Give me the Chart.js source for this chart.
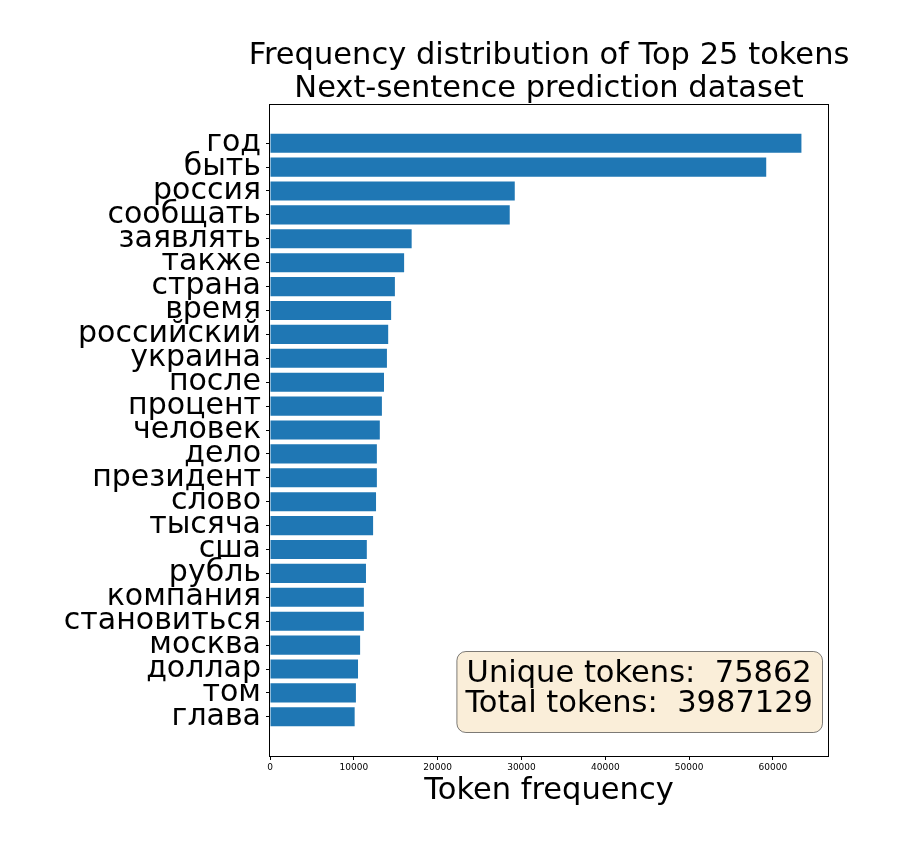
<!DOCTYPE html>
<html>
<head>
<meta charset="utf-8">
<script src="https://cdn.jsdelivr.net/npm/chart.js@4.4.1/dist/chart.umd.min.js"></script>
<style>
    html, body { margin: 0; padding: 0; background: #fff; }
    #myChart { display: block; }
</style>
</head>
<body>
<canvas id="myChart" width="900" height="864"></canvas>
<script>
// top 25 tokens, highest first
const tokens = ["год", "быть", "россия", "сообщать", "заявлять", "также", "страна", "время",
    "российский", "украина", "после", "процент", "человек", "дело", "президент", "слово",
    "тысяча", "сша", "рубль", "компания", "становиться", "москва", "доллар", "том", "глава"];
const counts = [63400, 59200, 29200, 28600, 16900, 16000, 14900, 14450,
    14100, 13950, 13600, 13350, 13100, 12750, 12750, 12650,
    12300, 11550, 11450, 11200, 11200, 10750, 10500, 10250, 10100];
const xTicks = [0, 10000, 20000, 30000, 40000, 50000, 60000];
const titleLines = ["Frequency distribution of Top 25 tokens", "Next-sentence prediction dataset"];
const statLines = ["Unique tokens:  75862", "Total tokens:  3987129"];

const FONT = "'DejaVu Sans', 'Noto Sans', sans-serif";
Chart.defaults.color = "#000";
Chart.defaults.font.family = FONT;

// matplotlib-like margins: 5% around the bar extent
const yMin = -0.4 - 0.05 * (tokens.length - 0.2);
const yMax = tokens.length - 0.6 + 0.05 * (tokens.length - 0.2);
const xMax = Math.max(...counts) * 1.05;

// two-line title centred over the axes, like plt.title
const axesTitle = {
    id: "axesTitle",
    afterDraw(chart) {
        const {ctx, chartArea: a} = chart;
        ctx.save();
        ctx.font = "30.5px " + FONT;
        ctx.fillStyle = "#000";
        ctx.textAlign = "center";
        ctx.textBaseline = "alphabetic";
        titleLines.forEach((s, i) => ctx.fillText(s, (a.left + a.right) / 2, a.top - 40 + i * 33));
        ctx.restore();
    }
};

const framePlugin = {
    id: "frame",
    afterDatasetsDraw(chart) {
        const {ctx, chartArea: a} = chart;
        ctx.save();
        ctx.strokeStyle = "#000";
        ctx.lineWidth = 1;
        ctx.strokeRect(Math.round(a.left) - 0.5, Math.round(a.top) + 0.5,
            Math.round(a.right - a.left) + 1, Math.round(a.bottom - a.top));
        ctx.restore();
    }
};

const statsBox = {
    id: "statsBox",
    afterDraw(chart) {
        const {ctx, chartArea: a} = chart;
        ctx.save();
        ctx.font = "30.5px " + FONT;
        const w = Math.max(...statLines.map(s => ctx.measureText(s).width)) + 18;
        const h = 81;
        const right = a.right - 6, bottom = a.bottom - 24;
        const left = right - w, top = bottom - h;
        ctx.beginPath();
        ctx.roundRect(left + 0.5, top + 0.5, w, h, 9);
        ctx.fillStyle = "rgba(245, 222, 179, 0.5)";
        ctx.fill();
        ctx.strokeStyle = "rgba(0, 0, 0, 0.5)";
        ctx.lineWidth = 1;
        ctx.stroke();
        ctx.fillStyle = "#000";
        ctx.textAlign = "center";
        ctx.textBaseline = "alphabetic";
        statLines.forEach((s, i) => ctx.fillText(s, left + w / 2, top + 31 + i * 29.5));
        ctx.restore();
    }
};

const data = {
    datasets: [{
        data: tokens.map((t, i) => ({x: counts[i], y: i})),
        backgroundColor: "#1f77b4",
        borderWidth: 0,
        barPercentage: 0.8,
        categoryPercentage: 1.0,
    }]
};

let config = {
    type: "bar",
    data,
    plugins: [axesTitle, framePlugin, statsBox],
    options: {
        indexAxis: "y",
        responsive: false,
        animation: false,
        devicePixelRatio: 1,
        layout: {
            padding: {top: 104, right: 72, bottom: 0, left: 0}
        },
        plugins: {
            legend: {display: false},
            tooltip: {enabled: false},
            title: {display: false},
        },
        scales: {
            y: {
                type: "linear",
                reverse: true,
                offset: false,
                min: yMin,
                max: yMax,
                afterFit: (axis) => { axis.width = 270; },
                afterBuildTicks: (axis) => { axis.ticks = tokens.map((t, i) => ({value: i})); },
                ticks: {
                    autoSkip: false,
                    font: {size: 30},
                    color: "#000",
                    padding: 5,
                    callback: (v) => tokens[v],
                },
                grid: {
                    display: true,
                    offset: false,
                    drawOnChartArea: false,
                    drawTicks: true,
                    tickLength: 4,
                    color: "#000",
                },
                border: {display: false},
            },
            x: {
                type: "linear",
                min: 0,
                max: xMax,
                afterFit: (axis) => { axis.height = 108; },
                afterBuildTicks: (axis) => { axis.ticks = xTicks.map(v => ({value: v})); },
                ticks: {
                    autoSkip: false,
                    maxRotation: 0,
                    font: {size: 9},
                    color: "#000",
                    padding: 2,
                    callback: (v) => String(v),
                },
                grid: {
                    display: true,
                    drawOnChartArea: false,
                    drawTicks: true,
                    tickLength: 4,
                    color: "#000",
                },
                border: {display: false},
                title: {
                    display: true,
                    text: "Token frequency",
                    color: "#000",
                    font: {size: 30.5},
                    padding: {top: 0, bottom: 55},
                },
            },
        },
    }
};

const ctx = document.getElementById("myChart");
let myChart = new Chart(ctx, config);
</script>
</body>
</html>
